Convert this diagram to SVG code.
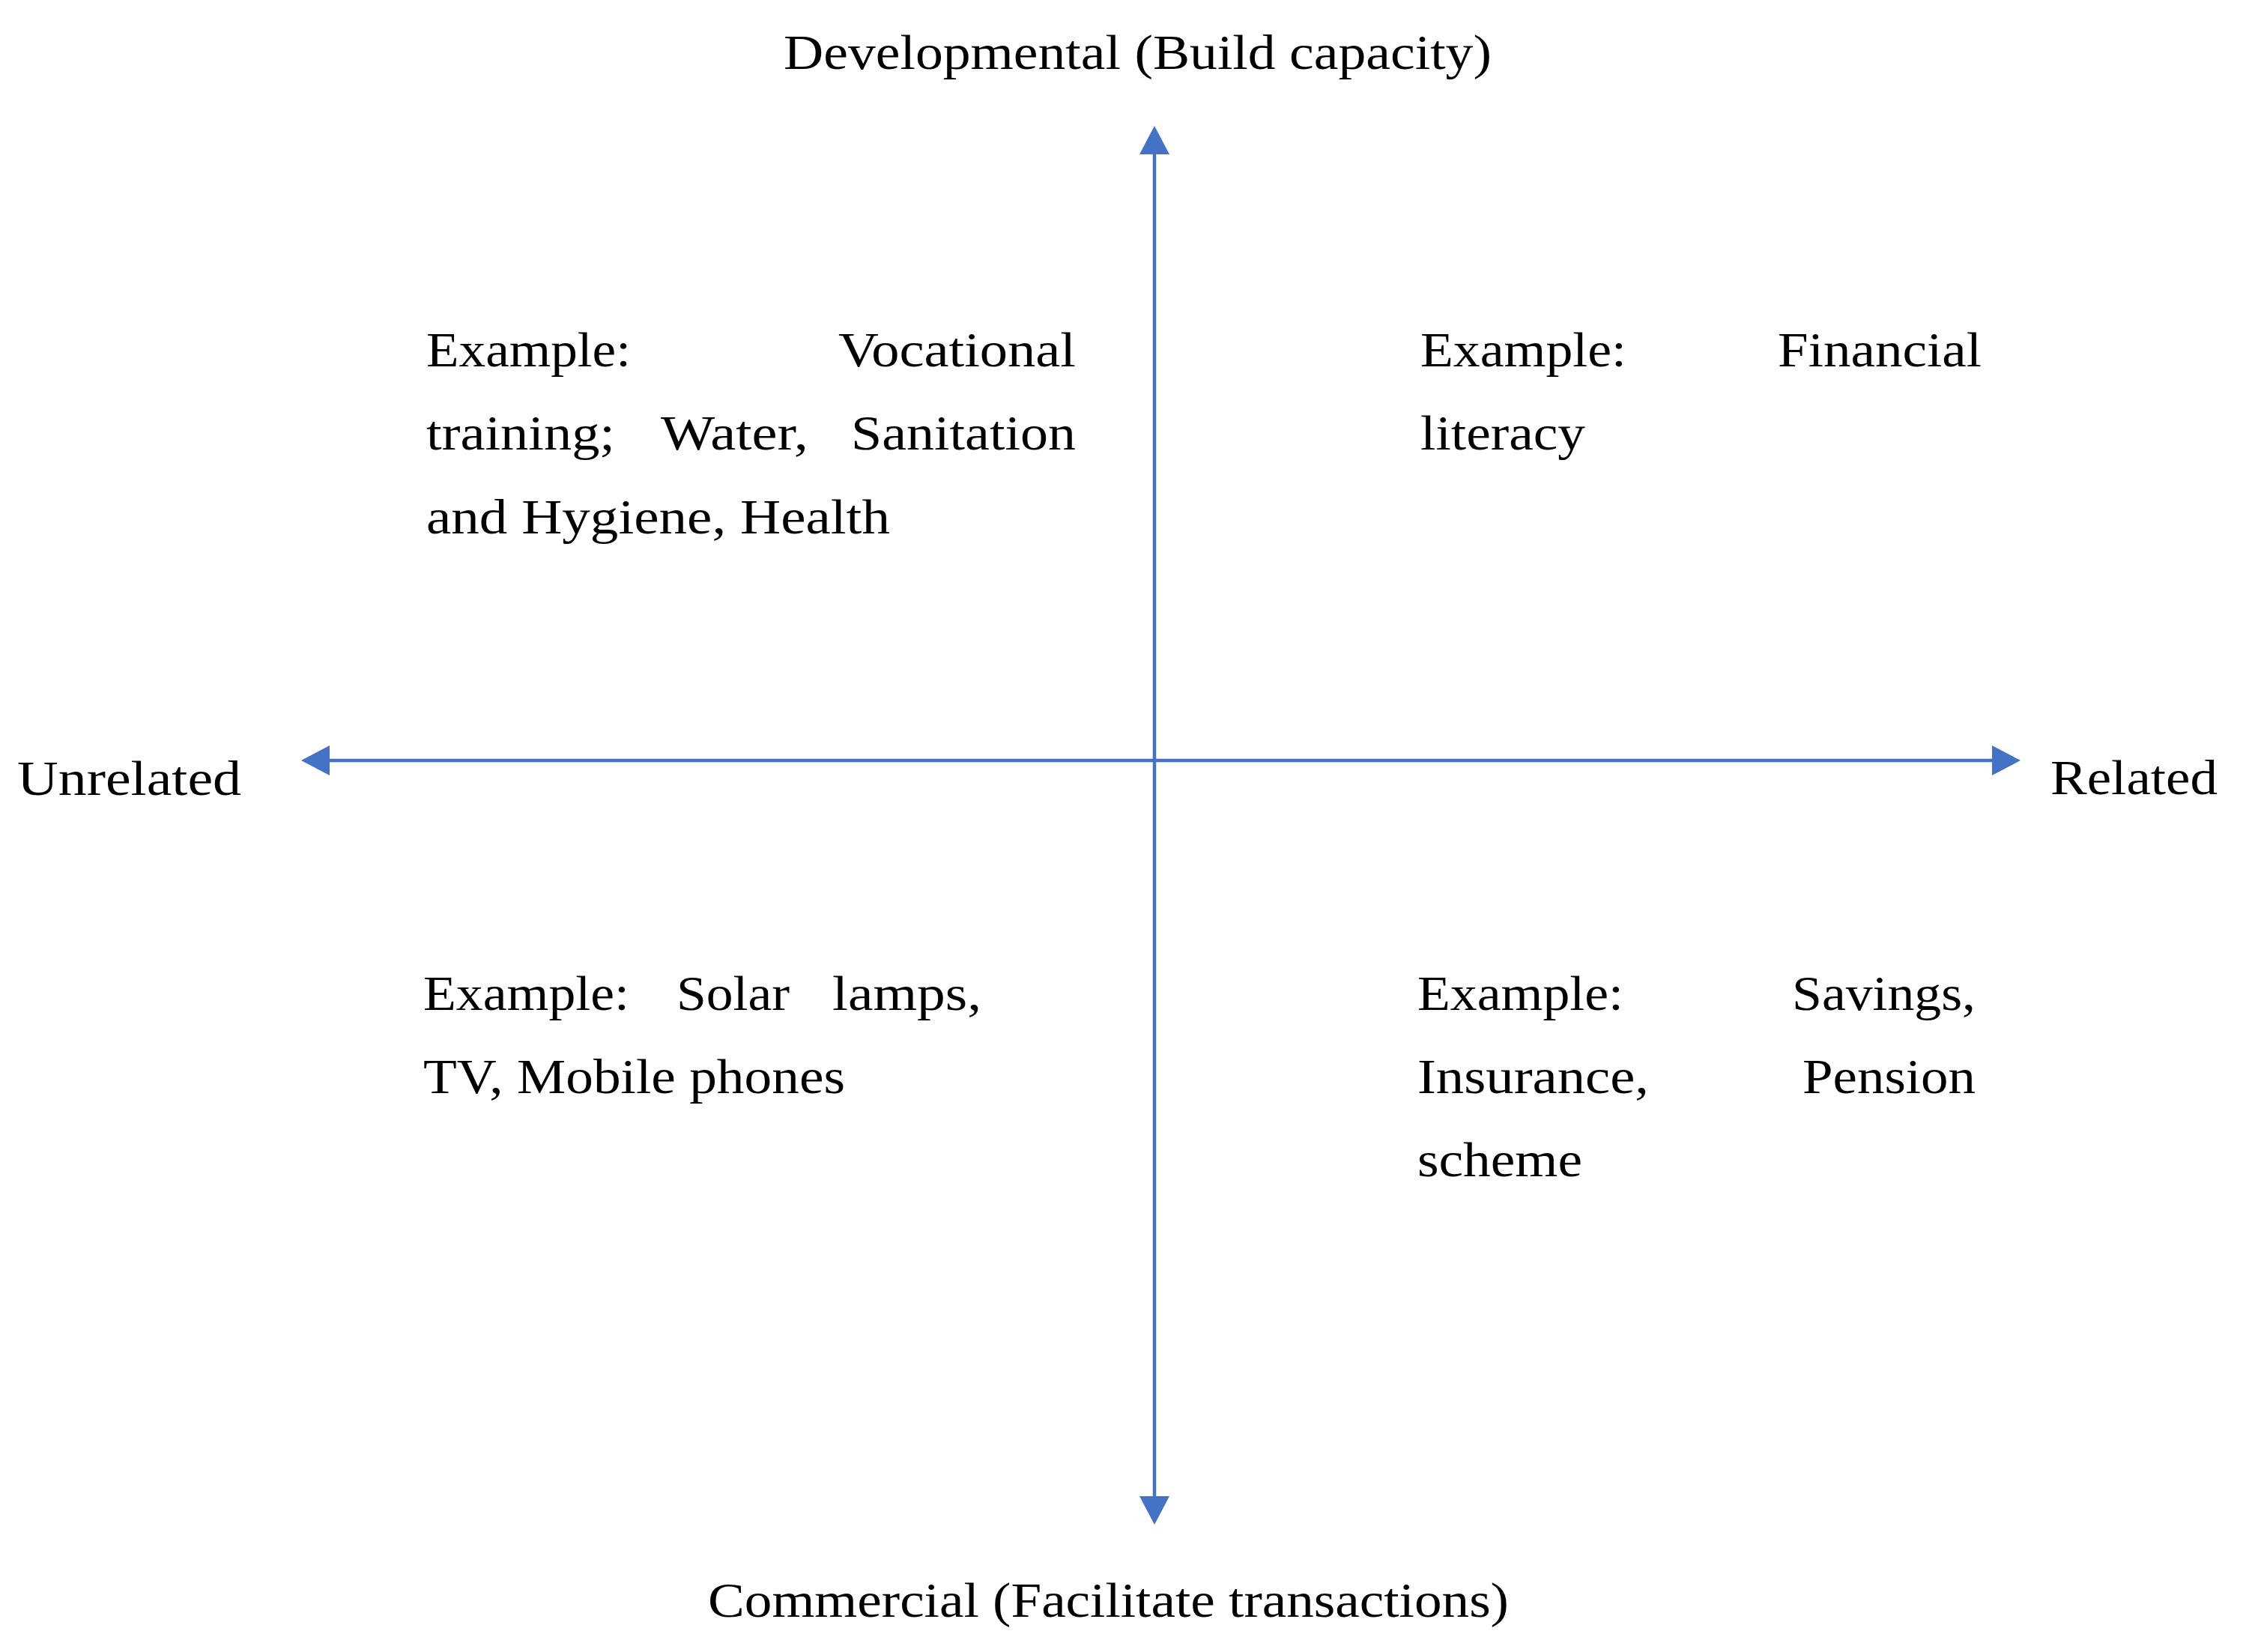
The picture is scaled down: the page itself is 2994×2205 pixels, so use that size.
<svg xmlns="http://www.w3.org/2000/svg" width="2994" height="2205" viewBox="0 0 2994 2205">
<style>
text{font-family:"Liberation Serif","Times New Roman",serif;font-size:65px;fill:#000}
.ax{stroke:#4472C4;stroke-width:4.5;fill:none}
</style>
<defs>
<marker id="ah" markerUnits="userSpaceOnUse" markerWidth="40" markerHeight="42" viewBox="0 0 40 42" refX="0" refY="21" orient="auto-start-reverse" overflow="visible">
<path d="M0,1 L38,21 L0,41 z" fill="#4472C4"/>
</marker>
</defs>
<rect width="2994" height="2205" fill="#fff"/>
<g id="connectors">
<line class="ax" x1="1541" y1="206" x2="1541" y2="1997" marker-start="url(#ah)" marker-end="url(#ah)"/>
<line class="ax" x1="440" y1="1015" x2="2659" y2="1015" marker-start="url(#ah)" marker-end="url(#ah)"/>
</g>
<g id="top-label"><text x="1046" y="92" textLength="945" lengthAdjust="spacingAndGlyphs">Developmental (Build capacity)</text></g>
<g id="bottom-label"><text x="945" y="2158" textLength="1069" lengthAdjust="spacingAndGlyphs">Commercial (Facilitate transactions)</text></g>
<g id="left-label"><text x="23" y="1061" textLength="299" lengthAdjust="spacingAndGlyphs">Unrelated</text></g>
<g id="right-label"><text x="2737" y="1060" textLength="223" lengthAdjust="spacingAndGlyphs">Related</text></g>
<g id="q-top-left">
<text x="569" y="489" textLength="273" lengthAdjust="spacingAndGlyphs">Example:</text>
<text x="1119" y="489" textLength="317" lengthAdjust="spacingAndGlyphs">Vocational</text>
<text x="569" y="600" textLength="252" lengthAdjust="spacingAndGlyphs">training;</text>
<text x="882" y="600" textLength="197" lengthAdjust="spacingAndGlyphs">Water,</text>
<text x="1136" y="600" textLength="300" lengthAdjust="spacingAndGlyphs">Sanitation</text>
<text x="569" y="712" textLength="619" lengthAdjust="spacingAndGlyphs">and Hygiene, Health</text>
</g>
<g id="q-top-right">
<text x="1896" y="489" textLength="275" lengthAdjust="spacingAndGlyphs">Example:</text>
<text x="2373" y="489" textLength="272" lengthAdjust="spacingAndGlyphs">Financial</text>
<text x="1896" y="600" textLength="220" lengthAdjust="spacingAndGlyphs">literacy</text>
</g>
<g id="q-bottom-left">
<text x="565" y="1348" textLength="275" lengthAdjust="spacingAndGlyphs">Example:</text>
<text x="903" y="1348" textLength="151" lengthAdjust="spacingAndGlyphs">Solar</text>
<text x="1111" y="1348" textLength="199" lengthAdjust="spacingAndGlyphs">lamps,</text>
<text x="565" y="1459" textLength="563" lengthAdjust="spacingAndGlyphs">TV, Mobile phones</text>
</g>
<g id="q-bottom-right">
<text x="1892" y="1348" textLength="275" lengthAdjust="spacingAndGlyphs">Example:</text>
<text x="2392" y="1348" textLength="245" lengthAdjust="spacingAndGlyphs">Savings,</text>
<text x="1892" y="1459" textLength="309" lengthAdjust="spacingAndGlyphs">Insurance,</text>
<text x="2406" y="1459" textLength="231" lengthAdjust="spacingAndGlyphs">Pension</text>
<text x="1892" y="1570" textLength="220" lengthAdjust="spacingAndGlyphs">scheme</text>
</g>
</svg>
